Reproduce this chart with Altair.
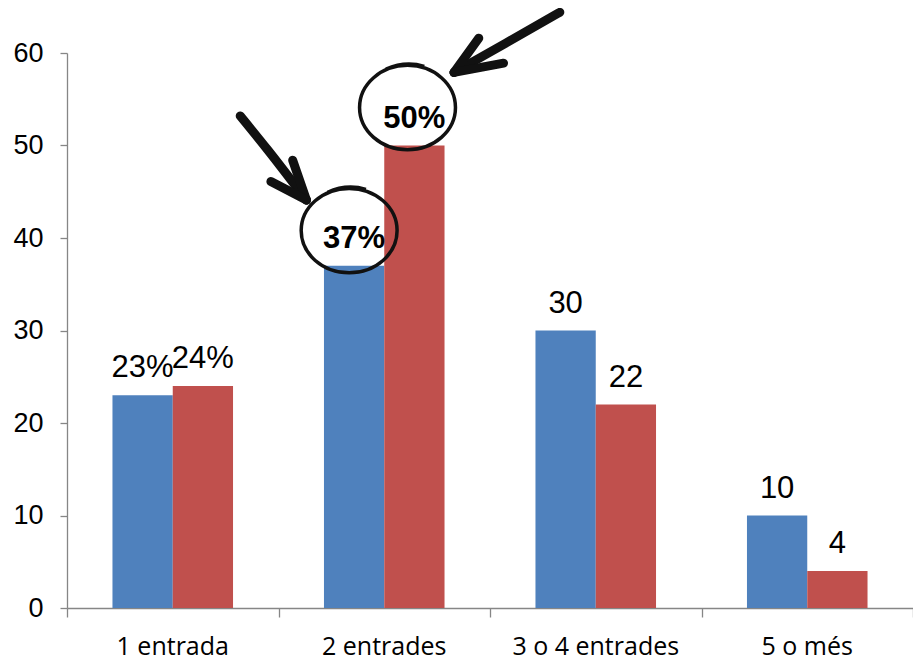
import altair as alt
import pandas as pd

# ---- data ----
categories = ["1 entrada", "2 entrades", "3 o 4 entrades", "5 o més"]
series = ["A", "B"]
values_a = [23, 37, 30, 10]
values_b = [24, 50, 22, 4]
labels_a = ["23%", "37%", "30", "10"]
labels_b = ["24%", "50%", "22", "4"]
bold_a = [False, True, False, False]
bold_b = [False, True, False, False]
y_ticks = [0, 10, 20, 30, 40, 50, 60]
x_bounds = [0, 1, 2, 3, 4]
colors = ["#4F81BD", "#C0504D"]

# hand-drawn annotations (x in category units, y in value units)
arrow_seg = [0, 0, 0, 1, 1, 2, 2, 3, 3, 3, 4, 4, 5, 5]
arrow_ord = [0, 1, 2, 0, 1, 0, 1, 0, 1, 2, 0, 1, 0, 1]
arrow_x = [0.819, 0.950, 1.132, 1.067, 1.132, 0.964, 1.132,
           2.330, 2.073, 1.830, 1.947, 1.830, 2.064, 1.830]
arrow_y = [53.2, 49.5, 44.1, 48.4, 44.1, 46.1, 44.1,
           64.4, 61.05, 57.9, 61.6, 57.9, 58.9, 57.9]
circle_x = [1.334, 1.610]
circle_y = [40.8, 54.1]

rows = []
for i, c in enumerate(categories):
    rows.append({"cat": c, "s": series[0], "v": values_a[i], "lab": labels_a[i], "bold": bold_a[i]})
    rows.append({"cat": c, "s": series[1], "v": values_b[i], "lab": labels_b[i], "bold": bold_b[i]})
df = pd.DataFrame(rows)
arrows = pd.DataFrame({"seg": arrow_seg, "o": arrow_ord, "x": arrow_x, "y": arrow_y})
circles = pd.DataFrame({"x": circle_x, "y": circle_y})

yscale = alt.Scale(domain=[0, 60], nice=False, zero=True)
yaxis = alt.Axis(values=y_ticks, grid=False, domainColor="#868686",
                 tickColor="#868686", tickSize=7, domainWidth=1.3, tickWidth=1.3,
                 labelFont="Liberation Sans", labelFontSize=27,
                 labelColor="black", labelPadding=17, title=None)
xband = alt.Scale(domain=categories, paddingInner=0.43, paddingOuter=0.215)
xquant = alt.Scale(domain=[0, 4], nice=False, zero=False)
xoff = alt.XOffset("s:N", scale=alt.Scale(domain=series, paddingInner=0, paddingOuter=0))

def Y(field):
    return alt.Y(field, scale=yscale, axis=yaxis)

bars = alt.Chart(df).mark_bar().encode(
    x=alt.X("cat:N", scale=xband, sort=categories,
            axis=alt.Axis(orient="bottom", domain=False, ticks=False, tickSize=0,
                          labelPadding=46, labelBaseline="alphabetic",
                          labelFont="Open Sans", labelFontSize=25, labelColor="black",
                          labelAngle=0, title=None)),
    xOffset=xoff,
    y=Y("v:Q"),
    color=alt.Color("s:N", scale=alt.Scale(domain=series, range=colors), legend=None),
)

def label_layer(bold):
    return alt.Chart(df).transform_filter(
        alt.datum.bold == bold
    ).mark_text(
        font="Liberation Sans", fontSize=31 if not bold else 31,
        fontWeight="bold" if bold else "normal", color="black",
        align="center", baseline="alphabetic", dy=-18,
    ).encode(
        x=alt.X("cat:N", scale=xband, sort=categories, axis=None),
        xOffset=xoff,
        y=Y("v:Q"),
        text="lab:N",
    )

ticks_layer = alt.Chart(arrows).mark_line(opacity=0).encode(
    x=alt.X("x:Q", scale=xquant,
            axis=alt.Axis(values=x_bounds, orient="bottom", labels=False, tickSize=9,
                          tickColor="#868686", domainColor="#868686", domainWidth=1.3,
                          tickWidth=1.3, grid=False, title=None)),
    y=Y("y:Q"),
    detail="seg:N",
)

arrow_layer = alt.Chart(arrows).mark_line(
    color="#111111", strokeWidth=9, strokeCap="round", strokeJoin="round", interpolate="monotone"
).encode(
    x=alt.X("x:Q", scale=xquant, axis=None),
    y=Y("y:Q"),
    detail="seg:N",
    order="o:Q",
)

ellipse = ("M -1 0 A 1 0.88 0 1 0 1 0 A 1 0.88 0 1 0 -1 0 "
           "M -0.45 -0.8 Q -0.05 -0.98 0.35 -0.86")
circle_layer = alt.Chart(circles).mark_point(
    shape=ellipse, size=9200, filled=False, stroke="#111111", strokeWidth=3.5, opacity=1
).encode(
    x=alt.X("x:Q", scale=xquant, axis=None),
    y=Y("y:Q"),
)

chart = alt.layer(
    bars, label_layer(False), label_layer(True), ticks_layer, arrow_layer, circle_layer
).resolve_scale(x="independent").properties(
    width=846, height=555,
    autosize=alt.AutoSizeParams(type="none"),
    padding={"left": 59, "top": 45, "right": 0, "bottom": 54},
    background="white",
).configure_view(stroke=None)

chart.save("out.html", embed_options={"renderer": "svg", "actions": False})
